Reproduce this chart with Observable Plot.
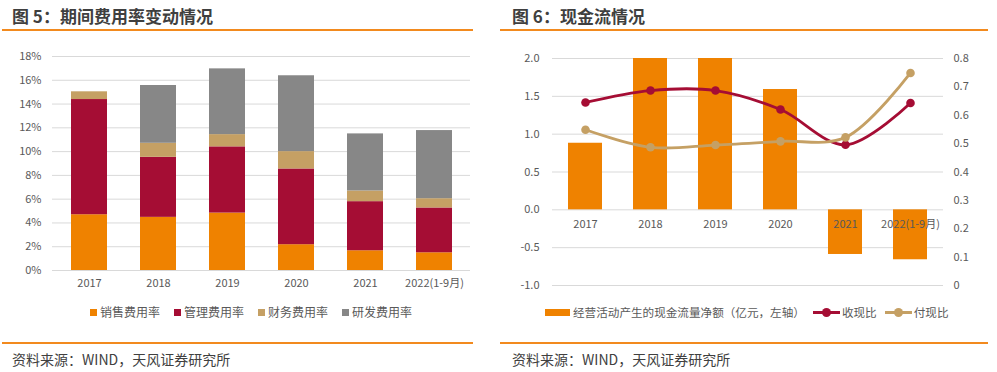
<!DOCTYPE html>
<html><head><meta charset="utf-8">
<script src="https://cdn.jsdelivr.net/npm/d3@7"></script>
<script src="https://cdn.jsdelivr.net/npm/@observablehq/plot@0.6"></script>
<style>
body{margin:0;background:#fff;width:997px;height:372px;position:relative;overflow:hidden;font-family:"Noto Sans CJK SC","Noto Sans",sans-serif;}
.title{position:absolute;top:5px;font-size:17px;line-height:22px;font-weight:bold;color:#3f3f3f;white-space:nowrap;}
.rule{position:absolute;height:2px;background:#F28A1E;}
.src{position:absolute;top:349px;font-size:14px;line-height:20px;color:#404040;white-space:nowrap;}
.chart{position:absolute;top:40px;}
.legend{position:absolute;top:303px;display:flex;align-items:center;font-size:12px;line-height:18px;color:#595959;white-space:nowrap;}
.sq{display:inline-block;width:7px;height:7px;margin-right:3px;}
.item{display:flex;align-items:center;margin-right:14px;}
.bar{display:inline-block;width:25px;height:7px;margin-right:3px;}
.ln{position:relative;display:inline-block;width:27px;height:3px;margin-right:2px;}
.ln i{position:absolute;left:9px;top:-3px;width:9px;height:9px;border-radius:50%;}
</style>
</head><body>
<div class="title" style="left:12px">图 5：期间费用率变动情况</div>
<div class="rule" style="left:2px;width:471px;top:29px"></div>
<div class="title" style="left:512px">图 6：现金流情况</div>
<div class="rule" style="left:500px;width:488px;top:29px"></div>
<div id="c1" class="chart" style="left:0px"></div>
<div id="c2" class="chart" style="left:500px"></div>
<div class="legend" style="left:90px">
  <span class="item"><span class="sq" style="background:#EF8200"></span>销售费用率</span>
  <span class="item"><span class="sq" style="background:#A50D34"></span>管理费用率</span>
  <span class="item"><span class="sq" style="background:#C5A064"></span>财务费用率</span>
  <span class="item"><span class="sq" style="background:#878787"></span>研发费用率</span>
</div>
<div class="legend" style="left:545px;font-size:11.6px">
  <span class="item" style="margin-right:8px"><span class="bar" style="background:#EF8200"></span>经营活动产生的现金流量净额（亿元，左轴）</span>
  <span class="item" style="margin-right:8px"><span class="ln" style="background:#A50D34"><i style="background:#A50D34"></i></span>收现比</span>
  <span class="item"><span class="ln" style="background:#C5A064"><i style="background:#C5A064"></i></span>付现比</span>
</div>
<div class="rule" style="left:2px;width:471px;top:342px;height:1.5px"></div>
<div class="rule" style="left:500px;width:488px;top:342px;height:1.5px"></div>
<div class="src" style="left:12px">资料来源：WIND，天风证券研究所</div>
<div class="src" style="left:512px">资料来源：WIND，天风证券研究所</div>
<script>
const years = ["2017","2018","2019","2020","2021","2022(1-9月)"];
// 期间费用率 (%)
const seriesNames = ["销售费用率","管理费用率","财务费用率","研发费用率"];
const sales   = [4.69, 4.47, 4.83, 2.17, 1.66, 1.49];
const admin   = [9.69, 5.05, 5.57, 6.37, 4.13, 3.77];
const finance = [0.65, 1.18, 1.03, 1.46, 0.90, 0.78];
const rnd     = [0.00, 4.86, 5.53, 6.38, 4.80, 5.73];
const pctTicks = [0,2,4,6,8,10,12,14,16,18];
// 现金流
const cashFlow     = [0.88, 2.00, 2.00, 1.59, -0.59, -0.66];
const collectRatio = [0.645, 0.687, 0.687, 0.620, 0.496, 0.643];
const payRatio     = [0.549, 0.487, 0.495, 0.508, 0.522, 0.749];
const leftTicks  = [-1.0,-0.5,0.0,0.5,1.0,1.5,2.0];
const rightTicks = [0,0.1,0.2,0.3,0.4,0.5,0.6,0.7,0.8];

const colors = ["#EF8200","#A50D34","#C5A064","#878787"];
const font = '"Noto Sans CJK SC","Noto Sans",sans-serif';

const rows = [];
[sales, admin, finance, rnd].forEach((arr, k) => arr.forEach((v, i) => rows.push({year: years[i], series: seriesNames[k], value: v})));

const p1 = Plot.plot({
  width: 480, height: 260,
  marginLeft: 52, marginRight: 10, marginTop: 16, marginBottom: 30,
  style: {fontFamily: font, fontSize: "11px", color: "#595959", background: "transparent"},
  x: {domain: years, paddingInner: 0.48, paddingOuter: 0.24, label: null, tickSize: 0, tickPadding: 9},
  y: {domain: [0, 18], ticks: pctTicks, tickFormat: d => d + "%", label: null, tickSize: 0, tickPadding: 11},
  color: {domain: seriesNames, range: colors},
  marks: [
    Plot.gridY(pctTicks, {stroke: "#d9d9d9", strokeOpacity: 1, strokeWidth: 1}),
    Plot.barY(rows, {x: "year", y: "value", fill: "series"})
  ]
});
document.getElementById("c1").append(p1);

// right axis (0–0.8) mapped onto left axis (-1–2)
const toLeft = v => -1 + v * 3.75;
const cf = years.map((y, i) => ({year: y, cash: cashFlow[i], collect: toLeft(collectRatio[i]), pay: toLeft(payRatio[i])}));

const p2 = Plot.plot({
  width: 497, height: 260,
  marginLeft: 52, marginRight: 54, marginTop: 18, marginBottom: 15,
  style: {fontFamily: font, fontSize: "11px", color: "#595959", background: "transparent"},
  x: {domain: years, paddingInner: 0.48, paddingOuter: 0.24, axis: null},
  y: {domain: [-1, 2], axis: null},
  marks: [
    Plot.gridY(leftTicks, {stroke: "#d9d9d9", strokeOpacity: 1, strokeWidth: 1}),
    Plot.axisY(leftTicks, {anchor: "left", tickSize: 0, tickPadding: 13, tickFormat: d => d.toFixed(1), label: null}),
    Plot.axisY(rightTicks.map(toLeft), {anchor: "right", tickSize: 0, tickPadding: 10, tickFormat: d => String(+((d + 1) / 3.75).toFixed(1)), label: null, textAnchor: "start"}),
    Plot.barY(cf, {x: "year", y: "cash", fill: "#EF8200"}),
    Plot.text(cf, {x: "year", y: 0, dy: 15, text: "year", fill: "#595959", fontSize: 11}),
    Plot.line(cf, {x: "year", y: "collect", stroke: "#A50D34", strokeWidth: 2.8, curve: "catmull-rom"}),
    Plot.dot(cf, {x: "year", y: "collect", r: 4.3, fill: "#A50D34"}),
    Plot.line(cf, {x: "year", y: "pay", stroke: "#C5A064", strokeWidth: 2.8, curve: "catmull-rom"}),
    Plot.dot(cf, {x: "year", y: "pay", r: 4.3, fill: "#C5A064"})
  ]
});
document.getElementById("c2").append(p2);
</script>
</body></html>
